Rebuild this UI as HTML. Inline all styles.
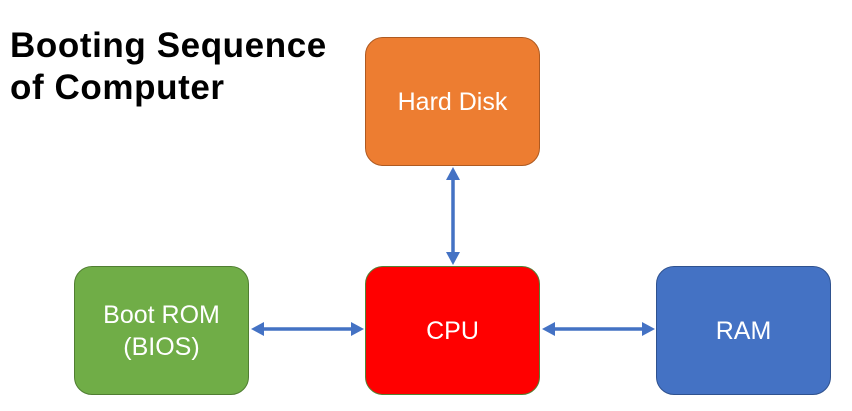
<!DOCTYPE html>
<html><head><style>
body{margin:0;width:852px;height:411px;background:#fff;overflow:hidden;position:relative;font-family:"Liberation Sans","Noto Sans CJK KR",sans-serif}
.t{position:absolute;left:10px;top:25px;font-size:35px;font-weight:bold;line-height:42px;color:#000;letter-spacing:0.6px}
.b{position:absolute;width:173px;height:126px;border-radius:18px;border:1.5px solid;display:flex;align-items:center;justify-content:center;text-align:center;color:#fff;font-size:25px;line-height:32px;box-sizing:border-box}
</style></head><body>
<div class="t">Booting Sequence<br>of Computer</div>
<div class="b" style="left:365px;top:37px;width:175px;height:129px;background:#ED7D31;border-color:#AE5A21">Hard Disk</div>
<div class="b" style="left:365px;top:266px;width:175px;height:129px;background:#FF0000;border-color:#538135">CPU</div>
<div class="b" style="left:74px;top:266px;width:175px;height:129px;background:#70AD47;border-color:#507E32">Boot ROM<br>(BIOS)</div>
<div class="b" style="left:656px;top:266px;width:175px;height:129px;background:#4472C4;border-color:#2F528F">RAM</div>
<svg width="852" height="411" style="position:absolute;left:0;top:0">
<g stroke="#4472C4" stroke-width="3.5" fill="#4472C4">
<line x1="453" y1="178" x2="453" y2="254"/>
<polygon points="453,167 446,180 460,180" stroke="none"/>
<polygon points="453,265 446,252 460,252" stroke="none"/>
<line x1="262" y1="329" x2="352" y2="329"/>
<polygon points="251,329 264,322 264,336" stroke="none"/>
<polygon points="364,329 351,322 351,336" stroke="none"/>
<line x1="553" y1="329" x2="643" y2="329"/>
<polygon points="542,329 555,322 555,336" stroke="none"/>
<polygon points="655,329 642,322 642,336" stroke="none"/>
</g></svg>
</body></html>
